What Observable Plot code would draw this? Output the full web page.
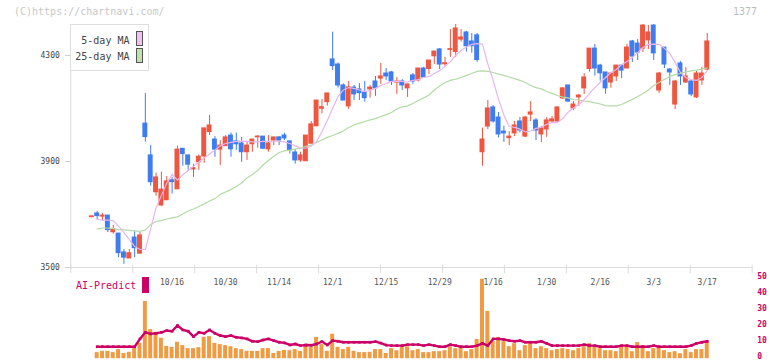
<!DOCTYPE html>
<html><head><meta charset="utf-8">
<script src="https://cdn.jsdelivr.net/npm/d3@7"></script>
<script src="https://cdn.jsdelivr.net/npm/@observablehq/plot@0.6"></script>
<style>
body{margin:0;background:#fff;}
#wrap{position:relative;width:772px;height:361px;overflow:hidden;font-family:"DejaVu Sans Mono",monospace;background:#fff;}
#wrap svg{position:absolute;left:0;top:0;}
.t{position:absolute;white-space:pre;line-height:10px;font-size:10px;}
.sw{position:absolute;box-sizing:border-box;}
</style></head><body><div id="wrap"></div>
<script>
// ---- data ----
const tickIdx = [15,25,35,45,55,65,75,85,95,105,115];
const tickLabels = ["10/16","10/30","11/14","12/1","12/15","12/29","1/16","1/30","2/16","3/3","3/17"];
const priceTicks = [3500,3900,4300];
const aiTicks = [0,10,20,30,40,50];

const open = [3690,3704,3692,3696,3633,3628,3557,3534,3613,3552,
4043,3923,3784,3734,3754,3829,3795,3948,3923,3870,
3897,3919,4011,3983,3945,3958,3998,3976,3968,3935,
3965,3991,3994,3946,3979,3991,3998,3976,3934,3904,
3901,3967,4033,4099,4124,4285,4266,4187,4108,4179,
4172,4160,4172,4202,4213,4232,4236,4198,4202,4176,
4225,4206,4251,4249,4297,4323,4267,4321,4313,4360,
4387,4353,4376,3935,4032,4104,4066,4013,3988,4006,
4051,3994,4077,4055,4002,4021,4051,4051,4138,4187,
4100,4142,4176,4249,4326,4262,4236,4198,4221,4262,
4251,4353,4345,4326,4357,4413,4168,4330,4247,4115,
4270,4198,4202,4142,4206,4247];
const high = [3695,3712,3704,3696,3659,3628,3568,3568,3635,3632,
4157,3960,3856,3860,3843,3840,3958,3948,3923,3890,
3925,4025,4074,3994,3979,3998,4008,4007,3991,3976,
3983,3998,3994,3998,3991,3994,4006,3976,3945,3935,
3998,4051,4130,4134,4157,4388,4272,4193,4202,4187,
4194,4202,4187,4221,4270,4251,4240,4217,4209,4191,
4232,4251,4255,4281,4315,4326,4293,4398,4417,4398,
4391,4383,4383,4026,4130,4111,4085,4033,4013,4051,
4066,4070,4126,4062,4032,4066,4070,4106,4179,4187,
4126,4153,4232,4326,4342,4267,4236,4232,4262,4266,
4342,4357,4360,4417,4413,4417,4236,4330,4251,4206,
4277,4255,4206,4240,4255,4383];
const low = [3688,3679,3675,3632,3626,3537,3512,3534,3537,3552,
3973,3807,3769,3731,3752,3777,3795,3882,3867,3840,
3867,3893,3998,3916,3885,3958,3916,3942,3897,3904,
3935,3950,3948,3935,3960,3960,3979,3928,3890,3897,
3901,3967,4033,4080,4109,4243,4177,4130,4096,4130,
4130,4124,4139,4146,4191,4206,4187,4153,4168,4142,
4191,4200,4217,4228,4266,4247,4259,4293,4293,4350,
4313,4309,4274,3882,4021,4045,3989,3972,3960,3994,
4008,3990,4051,3979,3972,3991,4045,4049,4134,4123,
4093,4108,4153,4237,4222,4203,4154,4176,4202,4213,
4251,4274,4281,4311,4323,4281,4157,4251,4187,4096,
4187,4195,4145,4138,4187,4243];
const close = [3693,3694,3696,3641,3645,3554,3537,3554,3573,3621,
3992,3822,3840,3794,3825,3822,3945,3928,3888,3875,
3918,4025,4036,3945,3960,3991,3946,3965,3935,3960,
3983,3994,3948,3968,3991,3979,3987,3942,3904,3923,
3998,4040,4130,4105,4157,4260,4187,4130,4180,4153,
4158,4139,4179,4176,4221,4221,4202,4202,4187,4191,
4202,4251,4217,4281,4315,4266,4271,4324,4402,4368,
4335,4335,4283,3983,4100,4051,4002,4006,3994,4036,
4017,4066,4085,4017,4025,4055,4059,4104,4176,4126,
4115,4149,4217,4326,4251,4233,4176,4232,4262,4243,
4330,4296,4311,4413,4387,4308,4232,4266,4236,4202,
4221,4221,4153,4232,4232,4353];

const ma5 = [null,3682,3679,3679,3677,3655,3632,3606,3579,3568,
3568,3647,3725,3772,3818,3852,3830,3850,3866,3882,
3898,3913,3928,3943,3959,3968,3972,3976,3977,3976,
3974,3974,3976,3976,3977,3977,3974,3968,3959,3951,
3950,3958,3975,4012,4055,4100,4145,4170,4179,4176,
4170,4164,4168,4176,4187,4194,4202,4203,4202,4200,
4206,4209,4217,4221,4232,4243,4259,4277,4300,4319,
4332,4342,4345,4343,4268,4206,4135,4075,4032,4029,
4022,4012,4015,4025,4030,4040,4047,4047,4062,4086,
4102,4115,4134,4157,4179,4198,4217,4236,4247,4266,
4277,4293,4311,4330,4342,4343,4342,4327,4308,4274,
4236,4217,4209,4206,4217,4243];
const ma25 = [null,3646,3649,3649,3647,3643,3642,3640,3638,3636,
3642,3662,3674,3677,3683,3687,3691,3702,3713,3721,
3730,3740,3751,3760,3776,3785,3794,3806,3819,3838,
3851,3866,3887,3904,3920,3934,3940,3943,3947,3951,
3957,3962,3972,3981,3991,3998,4006,4015,4028,4038,
4045,4051,4057,4062,4070,4077,4085,4098,4106,4110,
4119,4130,4140,4151,4170,4185,4198,4206,4211,4217,
4225,4232,4240,4242,4240,4236,4230,4225,4219,4213,
4206,4198,4187,4179,4174,4164,4157,4149,4143,4140,
4134,4132,4128,4126,4121,4117,4111,4110,4110,4115,
4125,4134,4145,4157,4170,4187,4198,4210,4221,4228,
4232,4238,4242,4245,4249,4253];

const volume = [null,3.8,4.6,4.6,3.8,5.7,3.3,4.0,6.5,9.6,
35.8,18.2,16.5,12.8,7.7,7.1,10.3,8.2,6.3,6.3,
6.9,13.4,13.8,9.6,8.8,8.2,7.5,6.3,5.7,4.6,
4.6,4.6,6.3,6.3,3.3,4.6,5.2,5.0,5.7,4.6,
7.7,7.1,13.4,8.8,4.6,15.3,7.1,5.7,7.1,4.6,
3.8,3.8,4.0,5.7,5.7,3.3,6.3,5.0,7.5,7.5,
5.0,5.7,3.8,3.8,4.4,4.4,5.0,7.5,6.3,7.5,
4.4,5.7,12.0,49.7,29.6,10.7,13.2,10.7,7.5,9.4,
5.0,8.2,9.4,6.3,7.5,6.3,5.0,5.7,6.3,5.7,
5.0,6.3,7.5,9.4,7.5,6.3,5.0,5.0,4.4,7.5,
7.5,4.4,10.1,8.2,4.4,6.3,7.5,5.0,3.8,4.4,
3.1,5.7,3.8,5.7,5.7,10.1];
const aiPredict = [null,7.5,7.5,7.5,7.5,7.5,7.5,7.5,7.5,12.4,
16.5,15.5,15.9,16.5,17.6,17.2,20.8,18.0,17.2,13.8,
16.5,15.9,18.0,15.9,14.5,13.8,14.5,13.4,13.0,12.4,
10.9,10.7,11.7,12.4,11.3,10.3,9.9,8.6,9.2,8.2,
8.6,8.4,9.2,10.7,8.6,11.3,10.9,10.3,10.3,10.3,
10.3,10.3,10.3,10.7,9.8,8.5,8.2,8.2,8.2,8.8,
8.8,8.8,8.2,8.8,8.2,7.5,7.5,8.8,8.2,7.5,
7.5,7.5,8.2,9.6,8.2,12.4,12.4,12.0,11.3,10.9,
11.3,10.3,10.3,10.3,10.9,9.6,8.2,8.2,8.2,8.2,
8.2,8.2,8.8,8.2,8.2,7.5,7.5,7.5,7.5,8.2,
8.2,7.5,7.5,7.5,7.5,8.2,7.5,7.5,7.5,7.5,
7.5,7.5,8.2,9.6,10.3,10.9];

// ---- build ----
const RED = "#f0553f", BLUE = "#3f7cf0";
const candles = open.map((o, i) => ({i, open: o, high: high[i], low: low[i], close: close[i]}));
const series = arr => arr.map((v, i) => ({i, v})).filter(d => d.v != null);

const X0 = -3.93, X1 = 123.4;
const Y0 = 3500, Y1 = 4417;
const W = 772, H = 361;
const mL = 70.3, mR = 20.3, mT = 24, mB = 94;
const pxY = (Y1 - Y0) / (H - mT - mB);
const pxX = (X1 - X0) / (W - mL - mR);
const gridX = d3.range(12).map(k => X0 + k * (X1 - X0) / 11);
const font = {fontFamily: "DejaVu Sans Mono, monospace", background: "transparent", overflow: "visible"};

const main = Plot.plot({
  width: W, height: H, marginLeft: mL, marginRight: mR, marginTop: mT, marginBottom: mB,
  x: {domain: [X0, X1], axis: null},
  y: {domain: [Y0, Y1], axis: null},
  style: font,
  marks: [
    Plot.ruleY([Y0], {x1: () => X0, x2: () => X1, stroke: "#dcdcdc"}),
    Plot.ruleX([X0], {y1: () => Y0 - 2 * pxY, y2: () => Y1, stroke: "#dcdcdc"}),
    Plot.ruleX(gridX, {y1: () => Y0 + 2.3 * pxY, y2: () => Y0 - 6.3 * pxY, stroke: "#dcdcdc"}),
    Plot.ruleY(priceTicks, {x1: () => X0 - 5.3 * pxX, x2: () => X0, stroke: "#cfcfcf"}),
    Plot.text(priceTicks, {x: () => X0, y: d => d, text: d => String(d), dx: -11, textAnchor: "end", fontSize: 8, fill: "#444"}),
    Plot.text(tickIdx, {x: d => d, y: () => Y0, dy: 15, text: (d, i) => tickLabels[i], fontSize: 8, fill: "#555"}),
    Plot.ruleX(candles, {x: "i", y1: "low", y2: "high", stroke: d => d.close >= d.open ? RED : BLUE, strokeWidth: 1}),
    Plot.rect(candles, {x1: d => d.i - 0.46, x2: d => d.i + 0.46, y1: "open", y2: "close",
      fill: d => d.close >= d.open ? RED : BLUE, insetTop: -0.5, insetBottom: -0.5}),
    Plot.line(series(ma25), {x: "i", y: "v", stroke: "#b3dba6", strokeWidth: 1.2}),
    Plot.line(series(ma5), {x: "i", y: "v", stroke: "#e8b6ec", strokeWidth: 1.2})
  ]
});

const sub = Plot.plot({
  width: W, height: H, marginLeft: mL, marginRight: mR, marginTop: 278.3, marginBottom: 2.8,
  x: {domain: [X0, X1], axis: null},
  y: {domain: [0, 50], axis: null},
  style: font,
  marks: [
    Plot.rect(series(volume), {x1: d => d.i - 0.37, x2: d => d.i + 0.37, y1: () => 0, y2: "v", fill: "#f09a42"}),
    Plot.line(series(aiPredict), {x: "i", y: "v", stroke: "#cc0066", strokeWidth: 2.4}),
    Plot.dot(series(aiPredict), {x: "i", y: "v", symbol: "square", r: 1.5, fill: "#cc0066"}),
    Plot.text(aiTicks, {x: () => X1, y: d => d, dx: 5, dy: -2, textAnchor: "start", fill: "#cc0066", fontSize: 8, fontWeight: "bold"})
  ]
});

const wrap = document.getElementById("wrap");
wrap.appendChild(main);
wrap.appendChild(sub);

function addText(txt, left, top, color, extra) {
  const d = document.createElement("div");
  d.className = "t"; d.textContent = txt;
  d.style.left = left + "px"; d.style.top = top + "px"; d.style.color = color;
  if (extra) Object.assign(d.style, extra);
  wrap.appendChild(d); return d;
}
function addBox(left, top, w, h, bg, border) {
  const d = document.createElement("div");
  d.className = "sw";
  Object.assign(d.style, {left: left + "px", top: top + "px", width: w + "px", height: h + "px", background: bg});
  if (border) d.style.border = border;
  wrap.appendChild(d); return d;
}
addText("(C)https://chartnavi.com/", 14, 7, "#c8c8c8");
addText("1377", 733, 7, "#bdbdbd");
// legend
addBox(70.3, 24, 78.6, 47.4, "#fff", "1px solid #dedede");
addText("5-day MA", 81.3, 36, "#444");
addText("25-day MA", 75.3, 51.7, "#444");
addBox(136.3, 31.3, 6.6, 15.2, "#f0c0f0", "1px solid #555");
addBox(136.3, 48.3, 6.6, 15.2, "#c0e0b0", "1px solid #555");
// AI-Predict label
addText("AI-Predict", 76, 281, "#cc0066");
addBox(142.3, 277.3, 6.6, 15.4, "#cc0066");
</script></body></html>
